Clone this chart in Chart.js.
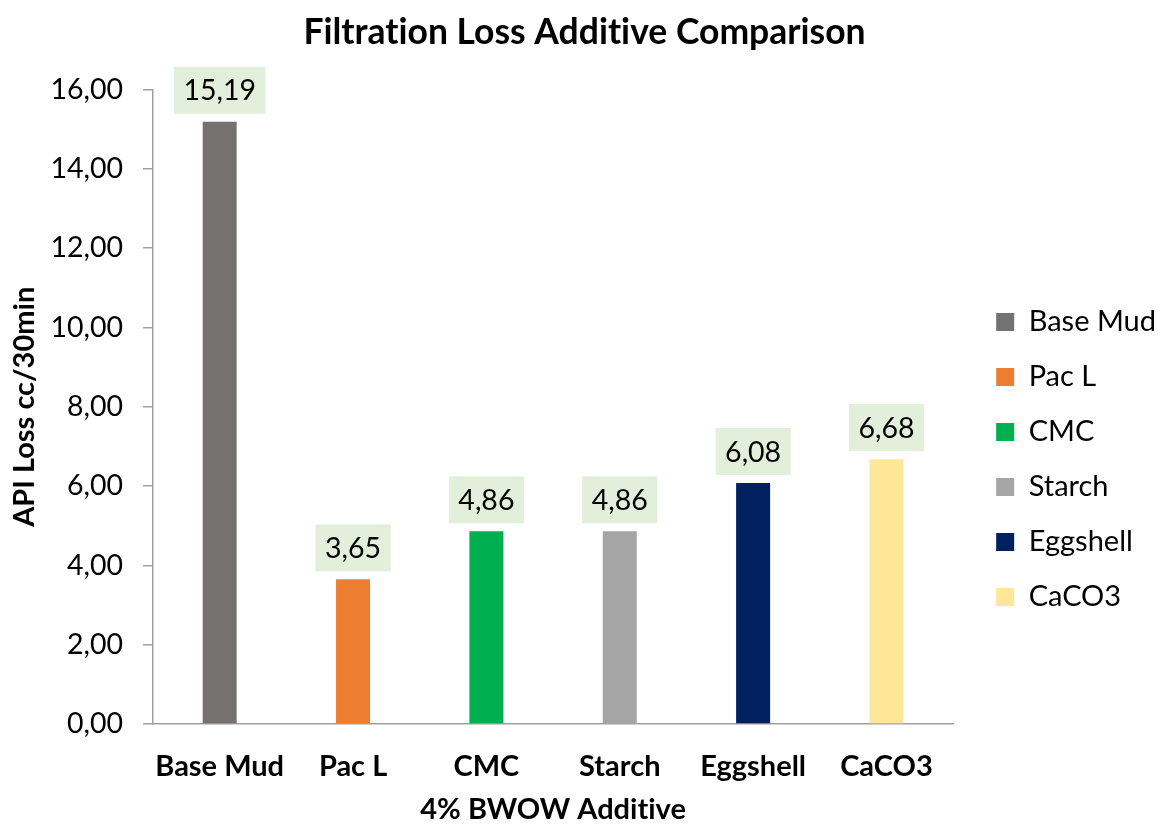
<!DOCTYPE html>
<html>
<head>
<meta charset="utf-8">
<title>Filtration Loss Additive Comparison</title>
<script src="https://cdn.jsdelivr.net/npm/chart.js@4.4.1/dist/chart.umd.min.js"></script>
<style>
  html, body { margin: 0; padding: 0; background: #ffffff; }
  #wrap { width: 1163px; height: 825px; }
</style>
</head>
<body>
<div id="wrap"><canvas id="chart" width="1163" height="825"></canvas></div>
<script>
// Additives tested at 4% BWOW and the API fluid loss measured for each (cc/30min)
const additives = ['Base Mud', 'Pac L', 'CMC', 'Starch', 'Eggshell', 'CaCO3'];
const apiLoss = [15.19, 3.65, 4.86, 4.86, 6.08, 6.68];
const barColors = ['#767171', '#ED7D31', '#00B050', '#A5A5A5', '#002060', '#FFE699'];
const yTicks = [0, 2, 4, 6, 8, 10, 12, 14, 16];

const FONT = 'Lato, "Open Sans", "DejaVu Sans", sans-serif';
const fmt = v => v.toFixed(2).replace('.', ',');

// Plain glyphs, no "ti" / "ff" style ligatures
const plainText = {
  id: 'plainText',
  beforeLayout(chart) { chart.ctx.textRendering = 'optimizeSpeed'; },
  beforeDraw(chart) { chart.ctx.textRendering = 'optimizeSpeed'; }
};

// Value callouts on a pale green box above each bar
const valueBoxes = {
  id: 'valueBoxes',
  afterDatasetsDraw(chart) {
    const ctx = chart.ctx;
    const meta = chart.getDatasetMeta(0);
    const data = chart.data.datasets[0].data;
    ctx.save();
    ctx.font = '28.5px ' + FONT;
    ctx.textAlign = 'center';
    ctx.textBaseline = 'middle';
    meta.data.forEach((bar, i) => {
      const label = fmt(data[i]);
      const w = ctx.measureText(label).width + 19;
      const h = 47;
      const bottom = bar.y - 8;
      ctx.fillStyle = '#E2EFDA';
      ctx.fillRect(bar.x - w / 2, bottom - h, w, h);
      ctx.fillStyle = '#000000';
      ctx.fillText(label, bar.x, bottom - h / 2 + 1);
    });
    ctx.restore();
  }
};

new Chart(document.getElementById('chart'), {
  type: 'bar',
  data: {
    labels: additives,
    datasets: [{
      label: 'API Loss',
      data: apiLoss,
      backgroundColor: barColors,
      borderWidth: 0,
      barPercentage: 0.255,
      categoryPercentage: 1.0
    }]
  },
  options: {
    responsive: false,
    animation: false,
    devicePixelRatio: 1,
    layout: { padding: { left: 6, right: 0, top: 0, bottom: 0 } },
    plugins: {
      title: {
        display: true,
        text: 'Filtration Loss Additive Comparison',
        color: '#000000',
        font: { family: FONT, size: 35.5, weight: 'bold' },
        padding: { top: 11, bottom: 36 }
      },
      legend: {
        position: 'right',
        align: 'center',
        title: { display: true, text: ' ', padding: { top: 31, bottom: 32 }, font: { family: FONT, size: 26 } },
        labels: {
          color: '#000000',
          font: { family: FONT, size: 29 },
          boxWidth: 18,
          boxHeight: 18,
          padding: 26,
          generateLabels(chart) {
            return chart.data.labels.map((name, i) => ({
              text: name,
              fillStyle: barColors[i],
              strokeStyle: barColors[i],
              fontColor: '#000000',
              lineWidth: 0,
              hidden: false,
              index: i
            }));
          }
        }
      },
      tooltip: { enabled: false }
    },
    scales: {
      x: {
        grid: { display: false, drawTicks: false },
        border: { display: true, color: '#A0A0A0', width: 1.5 },
        ticks: {
          color: '#000000',
          font: { family: FONT, size: 29, weight: 'bold' },
          padding: 25.6,
          autoSkip: false,
          maxRotation: 0,
          minRotation: 0
        },
        title: {
          display: true,
          text: '4% BWOW Additive',
          color: '#000000',
          font: { family: FONT, size: 29, weight: 'bold', lineHeight: 1.0 },
          padding: { top: 11, bottom: 0.5 }
        },
        afterFit(scale) { scale.height = 101; }
      },
      y: {
        min: 0,
        max: 16,
        afterBuildTicks(scale) {
          scale.ticks = yTicks.map(v => ({ value: v }));
        },
        grid: {
          display: true,
          drawOnChartArea: false,
          drawTicks: true,
          tickLength: 10,
          color: '#A0A0A0',
          lineWidth: 1.5
        },
        border: { display: true, color: '#A0A0A0', width: 1.5 },
        ticks: {
          color: '#000000',
          font: { family: FONT, size: 28.5 },
          padding: 20,
          callback: v => fmt(v)
        },
        title: {
          display: true,
          text: 'API Loss cc/30min',
          color: '#000000',
          font: { family: FONT, size: 29, weight: 'bold' },
          padding: { top: 1.6, bottom: 10.9 }
        },
        afterFit(scale) { scale.width = 147; }
      },
      // empty gutter between the plot and the legend
      gutter: {
        type: 'linear',
        position: 'right',
        display: true,
        grid: { display: false },
        border: { display: false },
        ticks: { display: false },
        afterFit(scale) { scale.width = 17; }
      }
    }
  },
  plugins: [plainText, valueBoxes]
});
</script>
</body>
</html>
